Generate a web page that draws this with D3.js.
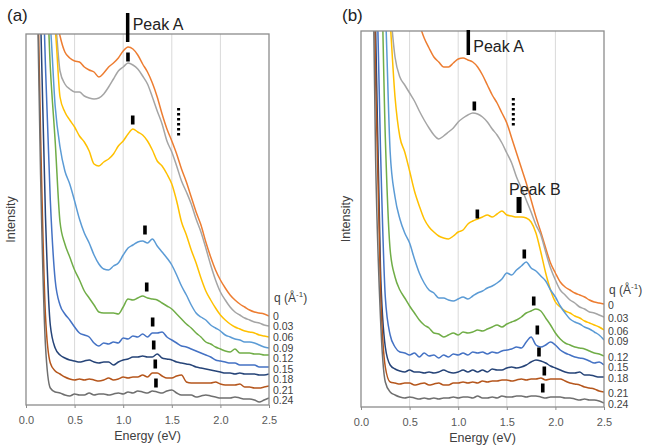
<!DOCTYPE html>
<html>
<head>
<meta charset="utf-8">
<script src="https://d3js.org/d3.v7.min.js"></script>
<style>
  body { margin: 0; background: #fff; }
  svg text { font-family: "Liberation Sans", Arial, sans-serif; }
  .grid { stroke: #d9d9d9; stroke-width: 1px; }
  .frame { fill: none; stroke: #8c8c8c; stroke-width: 1.3px; }
  .curve { fill: none; stroke-width: 1.5px; stroke-linejoin: round; }
  .xaxis text { font-size: 11px; fill: #595959; }
  .xaxis line { stroke: #8c8c8c; }
</style>
</head>
<body>
<svg id="chart" width="645" height="445"></svg>
<script>
// energy grid (eV), shared by both panels
const energy = [0.10, 0.15, 0.20, 0.25, 0.30, 0.35, 0.40, 0.45, 0.50, 0.55,
  0.60, 0.65, 0.70, 0.75, 0.80, 0.85, 0.90, 0.95, 1.00, 1.05,
  1.10, 1.15, 1.20, 1.25, 1.30, 1.35, 1.40, 1.45, 1.50, 1.55,
  1.60, 1.65, 1.70, 1.75, 1.80, 1.85, 1.90, 1.95, 2.00, 2.05,
  2.10, 2.15, 2.20, 2.25, 2.30, 2.35, 2.40, 2.45, 2.50];

const qLabels = ["0", "0.03", "0.06", "0.09", "0.12", "0.15", "0.18", "0.21", "0.24"];
const colors = ["#ED7D31", "#A5A5A5", "#FFC000", "#5B9BD5", "#70AD47", "#4472C4", "#264478", "#B5561C", "#6F6F6F"];
const xTicks = [0, 0.5, 1.0, 1.5, 2.0, 2.5];

// panel (a) intensities (arb. units, stacked), one array per q
const intensityA = [
  [600,500,450,420,395,369,353,347,344,343,338,335,333,328,332,338,342,347,354,358,356,350,341,333,322,308,291,276,264,251,236,223,208,193,180,163,148,135,125,117,110,105,101,98,95,93,92,91,89],
  [600,500,440,400,385,334,321,316,313,313,309,307,306,307,311,318,326,334,338,342,340,336,329,321,308,294,281,264,253,239,224,213,201,186,173,157,140,125,113,105,98,93,90,87,85,83,82,80,79],
  [600,500,430,390,375,308,293,285,278,269,263,254,241,239,243,246,251,259,264,271,276,273,270,264,255,244,239,231,221,204,183,170,155,142,127,114,105,97,90,85,81,78,76,74,73,72,70,69,68],
  [600,480,410,380,299,258,234,221,204,186,172,162,150,141,136,135,139,142,150,157,160,163,164,162,166,159,153,147,140,130,119,110,100,92,88,85,80,77,74,70,68,66,65,63,63,62,60,58,57],
  [600,470,450,338,264,183,161,148,135,125,114,107,100,93,92,92,92,91,98,106,105,107,109,107,106,105,102,99,96,91,86,81,77,72,68,63,61,58,56,54,53,56,52,52,52,51,51,50,50],
  [560,500,340,205,125,100,91,85,78,72,70,68,62,59,62,61,63,62,67,66,69,68,71,68,72,72,73,68,65,62,59,58,56,54,52,50,48,45,44,43,42,42,40,40,40,40,38,38,38],
  [540,390,190,80,57,50,47,45,44,43,44,45,43,42,43,43,40,43,45,46,48,48,49,48,48,51,47,46,45,43,42,41,40,38,37,36,35,34,33,32,32,31,32,31,31,31,30,30,31],
  [520,270,90,42,34,31,28,26,25,26,25,26,25,24,25,27,25,26,28,27,28,28,30,28,32,32,29,27,27,29,30,23,22,22,22,22,22,23,21,20,20,20,21,18,18,17,17,18,19],
  [500,230,60,17,13,12,10,9,11,10,10,12,10,11,11,10,11,12,11,13,12,14,13,12,14,13,12,14,15,12,10,10,10,8,9,10,9,8,7,7,7,8,7,6,6,5,3,5,7]
];

// panel (b) intensities
const intensityB = [
  [700,650,600,560,520,490,460,440,420,400,383,369,359,350,345,340,340,344,348,349,347,345,340,332,322,312,304,294,284,269,254,239,224,207,190,175,159,144,134,125,120,117,114,112,110,107,105,104,103],
  [700,600,520,460,400,350,330,322,314,306,296,287,279,272,268,271,275,279,285,289,292,294,293,290,285,278,272,264,254,244,230,219,207,195,182,172,155,139,127,117,112,107,104,100,98,95,94,92,90],
  [700,600,520,450,385,310,270,255,236,216,201,188,180,175,171,169,168,171,175,177,183,186,188,190,192,190,193,196,192,191,190,190,189,185,174,155,134,117,105,100,96,94,91,89,86,84,82,80,77],
  [650,550,470,400,255,210,188,174,164,148,134,124,117,114,109,109,107,106,108,110,108,111,114,116,119,121,124,128,134,132,137,141,145,139,136,131,126,117,110,101,94,88,85,83,80,78,75,72,67],
  [620,520,470,270,157,130,117,109,101,94,87,82,79,74,73,70,72,74,72,75,74,75,77,76,78,80,82,80,83,85,87,90,94,96,98,96,89,82,74,68,64,62,60,59,58,56,54,53,51],
  [600,480,260,110,72,60,55,54,52,54,50,54,51,52,49,52,50,53,52,54,52,55,54,55,53,55,54,56,57,58,60,59,65,70,62,60,62,65,62,57,54,52,50,49,48,46,44,45,42],
  [560,380,140,60,42,38,36,35,37,35,35,34,35,34,35,37,35,34,35,37,35,37,35,37,35,38,37,37,39,40,39,40,42,45,47,46,44,41,39,37,35,34,34,35,32,32,31,30,30],
  [700,330,120,40,25,24,23,24,24,22,23,24,22,23,24,22,22,24,24,25,24,25,24,26,25,26,26,27,27,26,27,28,27,28,28,29,27,28,28,28,26,24,23,22,20,19,18,16,15],
  [600,250,90,25,15,12,10,9,10,9,8,9,8,9,8,9,9,10,9,10,10,9,11,9,9,10,9,11,10,10,11,11,10,11,11,10,9,10,10,10,9,9,8,7,8,7,7,6,4]
];

// peak markers [energy, intensity]
const peaksA = [[1.049, 348], [1.098, 285], [1.224, 175], [1.242, 118], [1.303, 83], [1.314, 60], [1.330, 41], [1.337, 22]];
const peaksB = [[1.166, 301], [1.197, 193], [1.680, 153], [1.777, 106], [1.814, 77], [1.831, 55], [1.886, 36], [1.870, 19]];

const svg = d3.select("#chart");

function drawPanel(cfg) {
  const g = svg.append("g");
  const x = d3.scaleLinear().domain([0, 2.5]).range([cfg.left, cfg.left + cfg.width]);
  const y = d3.scaleLinear().domain([0, cfg.ymax]).range([cfg.top + cfg.height, cfg.top]);

  const clipId = "clip" + cfg.name;
  svg.append("clipPath").attr("id", clipId)
    .append("rect")
    .attr("x", cfg.left).attr("y", cfg.top)
    .attr("width", cfg.width).attr("height", cfg.height);

  // vertical gridlines
  g.selectAll("line.grid").data(xTicks.slice(1, -1))
    .join("line")
    .attr("class", "grid")
    .attr("x1", d => x(d)).attr("x2", d => x(d))
    .attr("y1", cfg.top).attr("y2", cfg.top + cfg.height);

  // spectra
  const line = d3.line()
    .x((d, i) => x(energy[i]))
    .y(d => y(d))
    .curve(d3.curveMonotoneX);

  g.append("g").attr("clip-path", "url(#" + clipId + ")")
    .selectAll("path.curve").data(cfg.series)
    .join("path")
    .attr("class", "curve")
    .attr("stroke", (d, i) => colors[i])
    .attr("d", line);

  // frame
  g.append("rect").attr("class", "frame")
    .attr("x", cfg.left).attr("y", cfg.top)
    .attr("width", cfg.width).attr("height", cfg.height);

  // x axis
  const axis = g.append("g").attr("class", "xaxis")
    .attr("transform", "translate(0," + (cfg.top + cfg.height) + ")")
    .call(d3.axisBottom(x).tickValues(xTicks).tickFormat(d3.format(".1f")).tickSize(3).tickPadding(8));
  axis.select(".domain").remove();

  g.append("text")
    .attr("x", cfg.left + cfg.width / 2).attr("y", cfg.top + cfg.height + 35)
    .attr("text-anchor", "middle").attr("font-size", 12.5).attr("fill", "#404040")
    .text("Energy (eV)");

  g.append("text")
    .attr("transform", "translate(" + cfg.ylabelX + "," + (cfg.top + cfg.height / 2) + ") rotate(-90)")
    .attr("text-anchor", "middle").attr("font-size", 12.5).attr("fill", "#404040")
    .text("Intensity");

  g.append("text")
    .attr("x", cfg.tagX).attr("y", 21)
    .attr("font-size", 17).attr("fill", "#222")
    .text(cfg.tag);

  // peak marks
  g.selectAll("rect.mark").data(cfg.peaks)
    .join("rect")
    .attr("class", "mark")
    .attr("x", d => x(d[0]) - 1.8).attr("y", d => y(d[1]) - 4.5)
    .attr("width", 3.6).attr("height", 9)
    .attr("fill", "#000");

  // Peak A
  g.append("line")
    .attr("x1", x(cfg.peakA[0])).attr("x2", x(cfg.peakA[0]))
    .attr("y1", y(cfg.peakA[1])).attr("y2", y(cfg.peakA[2]))
    .attr("stroke", "#000").attr("stroke-width", 3.5);
  g.append("text")
    .attr("x", x(cfg.peakA[0]) + 5).attr("y", y(cfg.peakA[2]) + cfg.peakAdy)
    .attr("font-size", 16).attr("fill", "#222")
    .text("Peak A");

  // dotted guide
  g.append("line")
    .attr("x1", x(cfg.dots[0])).attr("x2", x(cfg.dots[0]))
    .attr("y1", y(cfg.dots[1])).attr("y2", y(cfg.dots[2]))
    .attr("stroke", "#000").attr("stroke-width", 3)
    .attr("stroke-dasharray", "2.5,2.5");

  // legend labels next to curve ends
  let prev = -Infinity;
  const labelY = cfg.series.map(s => {
    let yy = y(s[s.length - 1]) + cfg.labelShift;
    if (yy < prev + 10.5) yy = prev + 10.5;
    prev = yy;
    return yy;
  });
  g.selectAll("text.qlab").data(qLabels)
    .join("text")
    .attr("class", "qlab")
    .attr("x", cfg.left + cfg.width + 4)
    .attr("y", (d, i) => labelY[i])
    .attr("dy", "0.35em")
    .attr("font-size", 10.5).attr("fill", "#404040")
    .text(d => d);

  const q = g.append("text")
    .attr("x", cfg.left + cfg.width + 5).attr("y", cfg.qTitleY)
    .attr("font-size", 12).attr("fill", "#404040");
  q.append("tspan").text("q (Å");
  q.append("tspan").attr("dy", -5).attr("font-size", 8).text("-1");
  q.append("tspan").attr("dy", 5).text(")");

  return { x, y, g };
}

drawPanel({
  name: "a", left: 26, top: 34, width: 243, height: 371, ymax: 371,
  series: intensityA, peaks: peaksA,
  peakA: [1.046, 392, 363], peakAdy: -12,
  dots: [1.57, 297, 268],
  tag: "(a)", tagX: 7, ylabelX: 15, labelShift: 0, qTitleY: 302
});

const pb = drawPanel({
  name: "b", left: 361, top: 31, width: 243, height: 376, ymax: 376,
  series: intensityB, peaks: peaksB,
  peakA: [1.104, 377, 352], peakAdy: -3,
  dots: [1.567, 309, 280],
  tag: "(b)", tagX: 342, ylabelX: 350, labelShift: 1, qTitleY: 294
});

// Peak B (panel b only)
pb.g.append("rect")
  .attr("x", pb.x(1.626) - 2.5).attr("y", pb.y(210))
  .attr("width", 5).attr("height", pb.y(194) - pb.y(210))
  .attr("fill", "#000");
pb.g.append("text")
  .attr("x", pb.x(1.626) - 10).attr("y", pb.y(212))
  .attr("font-size", 16).attr("fill", "#222")
  .text("Peak B");
</script>
</body>
</html>
